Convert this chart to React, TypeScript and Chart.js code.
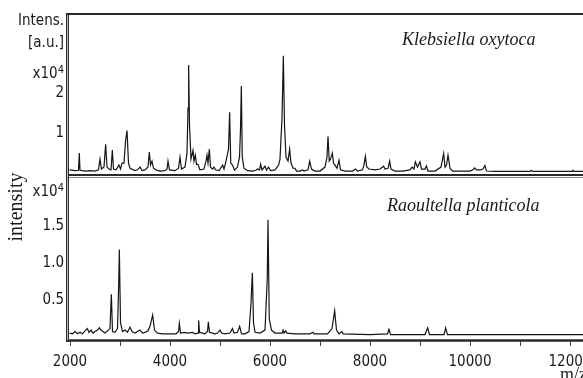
import React, { useEffect, useRef } from 'react';
import { Chart, registerables } from 'chart.js';

Chart.register(...registerables);

// ---- Data (m/z vs intensity, x10^4 a.u.) ----
const klebsiellaMz = [
  1990, 2100, 2170, 2186, 2200, 2300, 2400, 2500, 2570, 2600, 2630, 2680, 2713, 2740, 2780, 2820, 2847, 2870,
  2920, 2980, 3010, 3040, 3080, 3110, 3140, 3170, 3200, 3300, 3350, 3400, 3440, 3500, 3560, 3587, 3610, 3640,
  3670, 3720, 3800, 3900, 3940, 3960, 3990, 4100, 4170, 4200, 4230, 4300, 4340, 4360, 4373, 4390, 4420, 4460,
  4480, 4507, 4530, 4560, 4600, 4680, 4720, 4740, 4760, 4787, 4810, 4850, 4880, 4910, 4980, 5053, 5080, 5120,
  5140, 5170, 5193, 5215, 5250, 5290, 5350, 5390, 5410, 5427, 5445, 5480, 5550, 5650, 5720, 5750, 5790, 5813,
  5840, 5900, 5930, 5970, 6010, 6100, 6173, 6200, 6240, 6267, 6290, 6320, 6360, 6393, 6420, 6460, 6500, 6530,
  6600, 6650, 6680, 6760, 6793, 6830, 6900, 7000, 7100, 7140, 7160, 7185, 7210, 7247, 7270, 7300, 7340, 7380,
  7410, 7500, 7650, 7713, 7750, 7850, 7880, 7907, 7935, 7980, 8100, 8200, 8273, 8300, 8360, 8393, 8420, 8500,
  8650, 8800, 8840, 8880, 8907, 8950, 9000, 9030, 9100, 9127, 9160, 9300, 9420, 9473, 9500, 9530, 9560, 9600,
  9650, 10000, 10060, 10093, 10130, 10200, 10260, 10300, 10330, 10500, 11200, 11227, 11250, 12040, 12060, 12080, 13000,
];
const klebsiellaIntensity = [
  0.08, 0.06, 0.07, 0.50, 0.07, 0.05, 0.06, 0.05, 0.08, 0.35, 0.10, 0.15, 0.72, 0.15, 0.10, 0.08, 0.58, 0.10,
  0.08, 0.20, 0.10, 0.25, 0.25, 0.80, 1.07, 0.25, 0.12, 0.06, 0.08, 0.15, 0.06, 0.08, 0.15, 0.53, 0.20, 0.30,
  0.12, 0.08, 0.05, 0.06, 0.10, 0.30, 0.08, 0.06, 0.12, 0.40, 0.10, 0.15, 0.50, 1.63, 2.72, 1.20, 0.35, 0.57,
  0.30, 0.45, 0.22, 0.22, 0.08, 0.10, 0.30, 0.45, 0.25, 0.60, 0.15, 0.10, 0.15, 0.08, 0.06, 0.20, 0.10, 0.30,
  0.42, 0.60, 1.53, 0.25, 0.20, 0.07, 0.15, 0.40, 1.10, 2.19, 0.40, 0.12, 0.06, 0.05, 0.07, 0.10, 0.08, 0.22,
  0.08, 0.17, 0.07, 0.15, 0.06, 0.08, 0.20, 0.35, 1.38, 2.95, 1.20, 0.40, 0.30, 0.60, 0.25, 0.12, 0.12, 0.05,
  0.05, 0.08, 0.05, 0.08, 0.30, 0.10, 0.05, 0.05, 0.15, 0.40, 0.92, 0.30, 0.35, 0.50, 0.25, 0.20, 0.12, 0.32,
  0.08, 0.05, 0.05, 0.10, 0.05, 0.08, 0.20, 0.42, 0.15, 0.10, 0.08, 0.10, 0.17, 0.10, 0.12, 0.30, 0.10, 0.05,
  0.05, 0.08, 0.15, 0.10, 0.28, 0.15, 0.28, 0.10, 0.10, 0.18, 0.05, 0.05, 0.15, 0.49, 0.15, 0.20, 0.45, 0.12,
  0.05, 0.05, 0.08, 0.13, 0.08, 0.08, 0.10, 0.19, 0.05, 0.04, 0.04, 0.07, 0.04, 0.04, 0.07, 0.04, 0.04,
];

const raoultellaMz = [
  1990, 2050, 2100, 2150, 2200, 2250, 2300, 2347, 2380, 2420, 2460, 2500, 2550, 2587, 2620, 2660, 2700, 2750,
  2800, 2827, 2850, 2900, 2950, 2975, 2987, 3010, 3050, 3100, 3150, 3200, 3240, 3300, 3350, 3400, 3450, 3500,
  3560, 3600, 3653, 3690, 3750, 3850, 4000, 4120, 4170, 4187, 4210, 4300, 4350, 4450, 4500, 4560, 4573, 4590,
  4650, 4700, 4750, 4767, 4790, 4850, 4900, 4950, 5000, 5030, 5100, 5200, 5250, 5280, 5350, 5393, 5430, 5500,
  5580, 5620, 5647, 5670, 5700, 5800, 5900, 5945, 5960, 5985, 6030, 6100, 6240, 6260, 6280, 6310, 6340, 6500,
  6800, 6860, 6880, 7150, 7240, 7293, 7330, 7380, 7440, 7460, 8000, 8350, 8380, 8410, 9100, 9153, 9190, 9480,
  9513, 9550, 10400, 11800, 13000,
];
const raoultellaIntensity = [
  0.06, 0.05, 0.08, 0.05, 0.07, 0.05, 0.09, 0.12, 0.07, 0.10, 0.06, 0.08, 0.10, 0.13, 0.10, 0.08, 0.06, 0.09,
  0.12, 0.58, 0.08, 0.07, 0.12, 0.74, 1.18, 0.20, 0.08, 0.10, 0.07, 0.14, 0.08, 0.06, 0.08, 0.10, 0.06, 0.07,
  0.09, 0.15, 0.30, 0.10, 0.06, 0.05, 0.05, 0.05, 0.08, 0.19, 0.06, 0.07, 0.06, 0.07, 0.05, 0.06, 0.23, 0.07,
  0.06, 0.05, 0.08, 0.21, 0.07, 0.06, 0.05, 0.06, 0.10, 0.06, 0.05, 0.06, 0.12, 0.06, 0.07, 0.15, 0.05, 0.05,
  0.08, 0.46, 0.87, 0.20, 0.07, 0.06, 0.10, 0.79, 1.58, 0.25, 0.10, 0.06, 0.06, 0.10, 0.06, 0.09, 0.06, 0.05,
  0.05, 0.07, 0.05, 0.05, 0.12, 0.36, 0.10, 0.05, 0.08, 0.05, 0.04, 0.05, 0.11, 0.04, 0.04, 0.13, 0.04, 0.04,
  0.13, 0.04, 0.04, 0.04, 0.04,
];

const xTickValues = [2000, 3000, 4000, 5000, 6000, 7000, 8000, 9000, 10000, 11000, 12000];
const xTickLabels = [2000, 4000, 6000, 8000, 10000, 12000];
const topTickValues = [1, 2];
const bottomTickValues = [0.5, 1.0, 1.5];
const speciesNames = ['Klebsiella oxytoca', 'Raoultella planticola'];
const yAxisTitle = 'intensity';
const xAxisTitle = 'm/z';
const intensUnitLines = ['Intens.', '[a.u.]'];

const NARROW = '"Liberation Sans Narrow", "Arial Narrow", "DejaVu Sans Condensed", sans-serif';
const SERIF = '"Liberation Serif", "Times New Roman", serif';
const INK = '#1a1a1a';

const toPoints = (xs: number[], ys: number[]) => xs.map((x, i) => ({ x, y: ys[i] }));

const decorPlugin = {
  id: 'decor',
  afterDraw(chart: any) {
    const { ctx, chartArea, scales } = chart;
    const yTop = scales.yTop;
    const sepY = yTop.bottom;
    ctx.save();
    // frame top
    ctx.strokeStyle = '#2a2a2a';
    ctx.lineWidth = 2;
    ctx.beginPath();
    ctx.moveTo(chartArea.left - 2, chartArea.top);
    ctx.lineTo(chart.width, chartArea.top);
    ctx.stroke();
    // separator
    ctx.lineWidth = 2;
    ctx.beginPath();
    ctx.moveTo(chartArea.left - 2, sepY);
    ctx.lineTo(chart.width, sepY);
    ctx.stroke();
    ctx.strokeStyle = '#888';
    ctx.lineWidth = 1;
    ctx.beginPath();
    ctx.moveTo(chartArea.left, sepY + 2.5);
    ctx.lineTo(chart.width, sepY + 2.5);
    ctx.stroke();
    // bottom axis
    ctx.strokeStyle = '#2a2a2a';
    ctx.lineWidth = 2.5;
    ctx.beginPath();
    ctx.moveTo(chartArea.left - 2, chartArea.bottom + 0.5);
    ctx.lineTo(chart.width, chartArea.bottom + 0.5);
    ctx.stroke();
    // left axis (double line)
    ctx.lineWidth = 3;
    ctx.beginPath();
    ctx.moveTo(chartArea.left - 1.5, chartArea.top - 1);
    ctx.lineTo(chartArea.left - 1.5, chartArea.bottom + 2);
    ctx.stroke();
    ctx.strokeStyle = '#bbb';
    ctx.lineWidth = 1;
    ctx.beginPath();
    ctx.moveTo(chartArea.left - 1.5, chartArea.top + 1);
    ctx.lineTo(chartArea.left - 1.5, chartArea.bottom);
    ctx.stroke();

    // unit labels
    ctx.fillStyle = INK;
    ctx.textAlign = 'right';
    ctx.textBaseline = 'middle';
    ctx.font = `15px ${NARROW}`;
    const rx = chartArea.left - 5;
    ctx.fillText(intensUnitLines[0], rx, 21.5);
    ctx.fillText(intensUnitLines[1], rx, 43.5);
    const drawExp = (baseY: number) => {
      ctx.textBaseline = 'alphabetic';
      ctx.font = `11px ${NARROW}`;
      const w4 = ctx.measureText('4').width;
      ctx.fillText('4', rx, baseY - 5);
      ctx.font = `15px ${NARROW}`;
      ctx.fillText('x10', rx - w4, baseY);
    };
    drawExp(78);
    drawExp(196);

    // species names
    ctx.textAlign = 'left';
    ctx.textBaseline = 'alphabetic';
    ctx.font = `italic 18px ${SERIF}`;
    ctx.fillText(speciesNames[0], 402, 45);
    ctx.fillText(speciesNames[1], 387, 211);

    // y title
    ctx.save();
    ctx.translate(17, 207);
    ctx.rotate(-Math.PI / 2);
    ctx.textAlign = 'center';
    ctx.textBaseline = 'middle';
    ctx.font = `20px ${SERIF}`;
    ctx.fillText(yAxisTitle, 0, 0);
    ctx.restore();

    // x title
    ctx.textAlign = 'left';
    ctx.textBaseline = 'alphabetic';
    ctx.font = `18px ${SERIF}`;
    ctx.fillText(xAxisTitle, 560, 380);
    ctx.restore();
  },
};

export default function App() {
  const ref = useRef<HTMLCanvasElement | null>(null);

  useEffect(() => {
    if (!ref.current) return;
    const tickFont = { family: NARROW, size: 15 };
    const chart = new Chart(ref.current, {
      type: 'line',
      data: {
        datasets: [
          {
            label: speciesNames[0],
            data: toPoints(klebsiellaMz, klebsiellaIntensity),
            yAxisID: 'yTop',
            borderColor: '#151515',
            borderWidth: 1.2,
            pointRadius: 0,
            tension: 0,
            fill: false,
          },
          {
            label: speciesNames[1],
            data: toPoints(raoultellaMz, raoultellaIntensity),
            yAxisID: 'yBot',
            borderColor: '#151515',
            borderWidth: 1.2,
            pointRadius: 0,
            tension: 0,
            fill: false,
          },
        ],
      },
      options: {
        responsive: false,
        animation: false,
        parsing: false,
        normalized: true,
        layout: { padding: { left: 0, right: 20, top: 12, bottom: 0 } },
        plugins: { legend: { display: false }, tooltip: { enabled: false } },
        scales: {
          x: {
            type: 'linear',
            position: 'bottom',
            min: 1980,
            max: 13000,
            border: { display: false },
            grid: { drawOnChartArea: false, drawTicks: true, tickLength: 6, color: '#444', lineWidth: 1 },
            afterBuildTicks: (s: any) => {
              s.ticks = xTickValues.map((v) => ({ value: v }));
            },
            ticks: {
              autoSkip: false,
              maxRotation: 0,
              padding: 7,
              color: INK,
              font: tickFont,
              callback: (v: any) => (xTickLabels.includes(Math.round(Number(v))) ? String(Math.round(Number(v))) : ''),
            },
            afterFit: (s: any) => {
              s.height = 38;
            },
          },
          yTop: {
            type: 'linear',
            position: 'left',
            stack: 'spectra',
            stackWeight: 162,
            weight: 2,
            min: -0.05,
            max: 4.0,
            border: { display: false },
            grid: { display: false, drawTicks: false },
            ticks: { padding: 5, color: INK, font: tickFont, callback: (v: any) => String(v) },
            afterBuildTicks: (s: any) => {
              s.ticks = topTickValues.map((v) => ({ value: v }));
            },
            afterFit: (s: any) => {
              s.width = 69;
            },
          },
          yBot: {
            type: 'linear',
            position: 'left',
            stack: 'spectra',
            stackWeight: 166,
            weight: 1,
            min: -0.033,
            max: 2.18,
            border: { display: false },
            grid: { display: false, drawTicks: false },
            ticks: { padding: 5, color: INK, font: tickFont, callback: (v: any) => Number(v).toFixed(1) },
            afterBuildTicks: (s: any) => {
              s.ticks = bottomTickValues.map((v) => ({ value: v }));
            },
            afterFit: (s: any) => {
              s.width = 69;
            },
          },
        },
      } as any,
      plugins: [decorPlugin],
    });
    return () => chart.destroy();
  }, []);

  return (
    <div
      style={{
        position: 'fixed',
        left: 0,
        top: 0,
        width: 583,
        height: 378,
        overflow: 'hidden',
        background: '#fff',
      }}
    >
      <canvas ref={ref} width={640} height={378} style={{ display: 'block' }} />
    </div>
  );
}
